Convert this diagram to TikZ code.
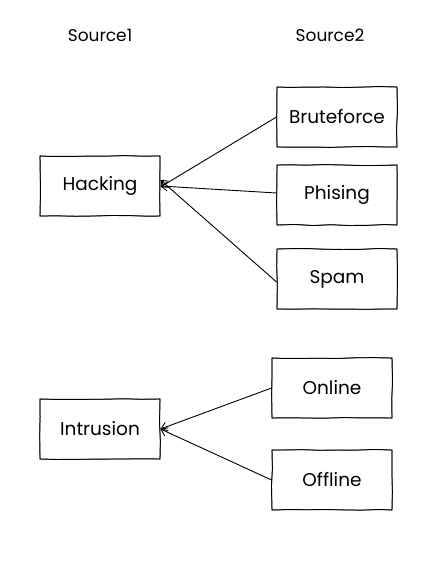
\documentclass[tikz,border=0pt]{standalone}
\usepackage{fontspec}
\setmainfont{Poppins}
\usetikzlibrary{arrows.meta,decorations.pathmorphing}
\begin{document}
\begin{tikzpicture}[x=1pt,y=-1pt,
  sketch/.style={decorate,decoration={random steps,segment length=18pt,amplitude=0.5pt}},
  box/.style={draw=black,line width=0.9pt,minimum width=120pt,minimum height=60pt,
    font=\fontsize{18.5}{20}\selectfont,inner sep=0pt,sketch,
    preaction={draw=black,line width=0.6pt,sketch,decoration={random steps,segment length=25pt,amplitude=0.9pt}}},
  title/.style={font=\fontsize{17}{19}\selectfont},
  link/.style={draw=black,line width=0.9pt,-{Straight Barb[length=6pt,width=9pt,line width=0.9pt]}}]
\pgfmathsetseed{7}
\useasboundingbox (0,0) rectangle (440,567);
\node[title] (s1) at (100,35) {Source1};
\node[title] (s2) at (330,35) {Source2};
\node[box] (hack) at (100,186) {Hacking};
\node[box] (brute) at (337,117) {Bruteforce};
\node[box] (phis) at (337,195) {Phising};
\node[box] (spam) at (337,279) {Spam};
\node[box] (intr) at (100,429) {Intrusion};
\node[box] (onl) at (332,388) {Online};
\node[box] (offl) at (332,480) {Offline};
\draw[link] (brute.west) -- ([yshift=-1pt]hack.east);
\draw[link] ([yshift=2pt]phis.west) -- (hack.east);
\draw[link] ([yshift=-3pt]spam.west) -- ([yshift=6pt]hack.east);
\draw[link] (onl.west) -- (intr.east);
\draw[link] (offl.west) -- (intr.east);
\end{tikzpicture}
\end{document}
